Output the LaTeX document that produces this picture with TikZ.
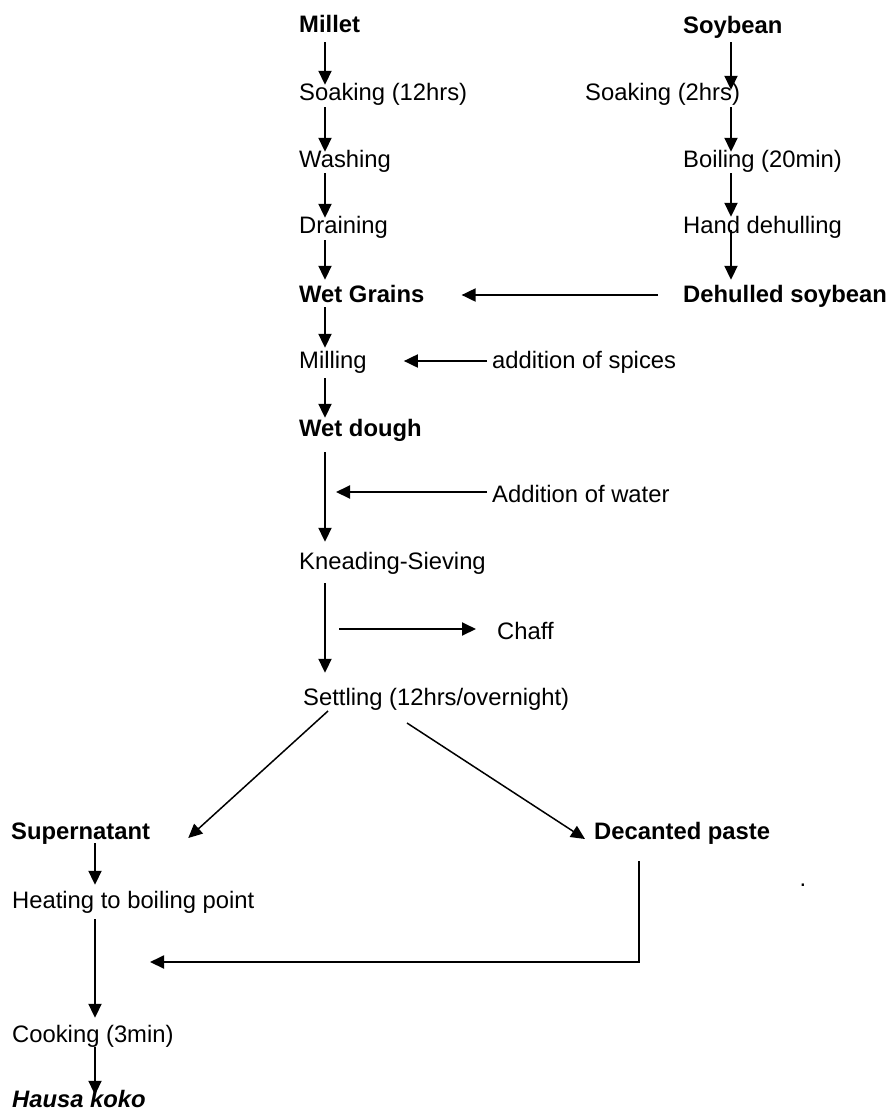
\documentclass[tikz,border=0pt]{standalone}
\usepackage{fontspec}
\setmainfont{Liberation Sans}
\usetikzlibrary{arrows.meta,calc}
\begin{document}
\begin{tikzpicture}[x=1pt,y=-1pt,
  lbl/.style={inner sep=0pt, text height=17pt, text depth=5pt, anchor=base west,
    font=\fontsize{23.8}{28}\selectfont},
  blbl/.style={lbl, font=\fontsize{23.8}{28}\selectfont\bfseries},
  arr/.style={draw=black, line width=1.9pt, -{Triangle[length=14pt,width=13pt]}},
  thin arr/.style={arr, line width=1.5pt}]
\useasboundingbox (0,0) rectangle (891,1112);
\coordinate (colA) at (325,0);
\coordinate (colB) at (731,0);
\coordinate (colC) at (95,0);
\coordinate (join) at (150,962);
% left column
\node[blbl] (millet) at (299,32) {Millet};
\node[lbl] (soak1) at (299,100) {Soaking (12hrs)};
\node[lbl] (wash) at (299,167) {Washing};
\node[lbl] (drain) at (299,233) {Draining};
\node[blbl] (wetgrains) at (299,302) {Wet Grains};
\node[lbl] (milling) at (299,368) {Milling};
\node[blbl] (wetdough) at (299,436) {Wet dough};
\node[lbl] (knead) at (299,569) {Kneading-Sieving};
\node[lbl] (settling) at (303,705) {Settling (12hrs/overnight)};
% right column
\node[blbl] (soybean) at (683,33) {Soybean};
\node[lbl] (soak2) at (585,100) {Soaking (2hrs)};
\node[lbl] (boil) at (683,167) {Boiling (20min)};
\node[lbl] (hand) at (683,233) {Hand dehulling};
\node[blbl] (dehulled) at (683,302) {Dehulled soybean};
% side inputs
\node[lbl] (spices) at (492,368) {addition of spices};
\node[lbl] (water) at (492,502) {Addition of water};
\node[lbl] (chaff) at (497,639) {Chaff};
% bottom
\node[blbl] (super) at (11,839) {Supernatant};
\node[blbl] (decanted) at (594,839) {Decanted paste};
\node[lbl] (heat) at (12,908) {Heating to boiling point};
\node[lbl] (cook) at (12,1042) {Cooking (3min)};
\node[lbl, font=\fontsize{23.8}{28}\selectfont\bfseries\itshape] (koko) at (12,1107) {Hausa koko};
\node[lbl, anchor=base] (dot) at (803,886) {.};
% left column arrows
\draw[arr, shorten <=5pt, shorten >=-2pt] (millet.south -| colA) -- (soak1.north -| colA);
\draw[arr, shorten <=2pt, shorten >=-2pt] (soak1.south -| colA) -- (wash.north -| colA);
\draw[arr, shorten <=1pt, shorten >=-2pt] (wash.south -| colA) -- (drain.north -| colA);
\draw[arr, shorten <=2pt, shorten >=5pt] (drain.south -| colA) -- (wetgrains.north -| colA);
\draw[arr, shorten <=0pt, shorten >=3pt] (wetgrains.south -| colA) -- (milling.north -| colA);
\draw[arr, shorten <=5pt, shorten >=1pt] (milling.south -| colA) -- (wetdough.north -| colA);
\draw[arr, shorten <=11pt, shorten >=10pt] (wetdough.south -| colA) -- (knead.north -| colA);
\draw[arr, shorten <=9pt, shorten >=15pt] (knead.south -| colA) -- (settling.north -| colA);
% right column arrows
\draw[arr, shorten <=4pt, shorten >=-7pt] (soybean.south -| colB) -- (soak2.north -| colB);
\draw[arr, shorten <=2pt, shorten >=-2pt] (soak2.south -| colB) -- (boil.north -| colB);
\draw[arr, shorten <=1pt, shorten >=-1pt] (boil.south -| colB) -- (hand.north -| colB);
\draw[arr, shorten <=-8pt, shorten >=5pt] (hand.south -| colB) -- (dehulled.north -| colB);
% horizontal inputs
\draw[arr] ($(dehulled.base west)+(-25,-7)$) -- ($(wetgrains.base east)+(37,-7)$);
\draw[arr] ($(spices.base west)+(-5,-7)$) -- ($(milling.base east)+(37,-7)$);
\draw[arr] ($(water.base west)+(-5,-10)$) -- ($(water.base west -| colA)+(11,-10)$);
\draw[arr] ($(chaff.base west -| colA)+(14,-10)$) -- ($(chaff.base west)+(-21,-10)$);
% split
\draw[thin arr] ($(settling.base west)+(25,6)$) -- ($(super.base east)+(38,-1)$);
\draw[thin arr] ($(settling.base west)+(104,18)$) -- ($(decanted.base west)+(-9,0)$);
% bottom column
\draw[arr, shorten <=-1pt, shorten >=6pt] (super.south -| colC) -- (heat.north -| colC);
\draw[arr, shorten <=6pt, shorten >=7pt] (heat.south -| colC) -- (cook.north -| colC);
\draw[arr, shorten <=0pt, shorten >=-5pt] (cook.south -| colC) -- (koko.north -| colC);
\draw[arr] ($(decanted.base west)+(45,22)$) |- (join);
\end{tikzpicture}
\end{document}
